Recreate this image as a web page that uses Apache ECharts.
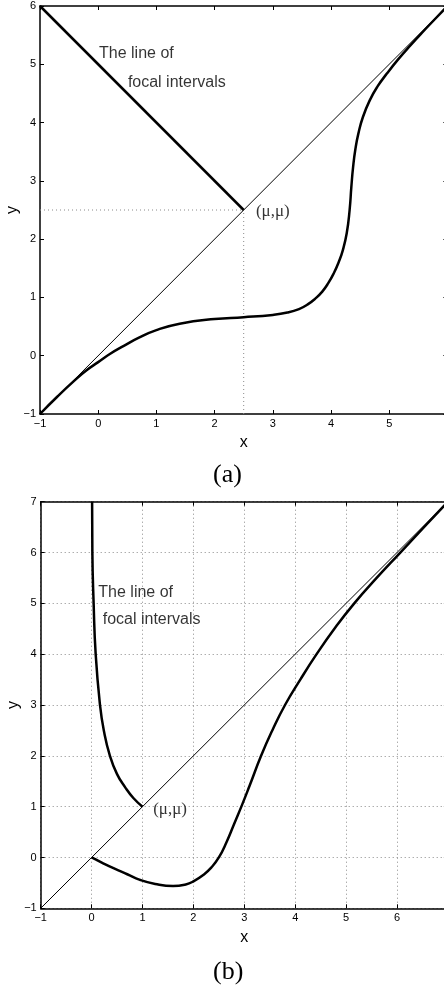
<!DOCTYPE html>
<html>
<head>
<meta charset="utf-8">
<script src="https://cdn.jsdelivr.net/npm/echarts@6/dist/echarts.min.js"></script>
<style>
  html, body { margin: 0; padding: 0; background: #fff; }
  #chart { width: 444px; height: 985px; }
</style>
</head>
<body>
<div id="chart"></div>
<script>
// ---- panel (a) ----
const aDiagonal = [[-1, -1], [6, 6]];
const aFocalLine = [[-1, 6], [2.5, 2.5]];
const aMu = 2.5;
const aCurve = [
  [-1, -1], [-0.7, -0.7], [-0.4, -0.42], [-0.2, -0.25], [0, -0.11], [0.2, 0.03],
  [0.44, 0.17], [0.7, 0.31], [1, 0.44], [1.4, 0.55], [2, 0.63], [2.5, 0.66],
  [3, 0.7], [3.25, 0.74], [3.45, 0.8], [3.6, 0.88], [3.73, 0.98], [3.85, 1.1],
  [3.95, 1.24], [4.05, 1.42], [4.13, 1.6], [4.2, 1.8], [4.27, 2.1], [4.32, 2.5],
  [4.35, 2.9], [4.38, 3.24], [4.42, 3.55], [4.47, 3.81], [4.55, 4.1], [4.67, 4.39],
  [4.8, 4.62], [4.96, 4.84], [5.15, 5.08], [5.36, 5.32], [5.6, 5.58], [5.8, 5.79], [6, 6]
];
const aRange = { xMin: -1, xMax: 6, yMin: -1, yMax: 6 };

// ---- panel (b) ----
const bDiagonal = [[-1, -1], [7, 7]];
const bFocalLine = [
  [0.01, 7], [0.015, 6], [0.04, 5], [0.08, 4], [0.165, 3], [0.24, 2.5],
  [0.36, 2], [0.5, 1.64], [0.66, 1.38], [0.82, 1.17], [1, 1]
];
const bCurve = [
  [0, 0], [0.2, -0.1], [0.43, -0.21], [0.7, -0.33], [0.95, -0.44], [1.25, -0.52],
  [1.6, -0.56], [1.85, -0.53], [2.0, -0.47], [2.2, -0.34], [2.35, -0.2],
  [2.5, 0.0], [2.65, 0.3], [2.8, 0.66], [2.95, 1.02], [3.1, 1.4], [3.33, 2],
  [3.55, 2.5], [3.8, 3], [4.1, 3.5], [4.42, 4], [4.77, 4.5], [5.16, 5],
  [5.6, 5.5], [6.065, 6], [6.53, 6.5], [7, 7]
];
const bRange = { xMin: -1, xMax: 7, yMin: -1, yMax: 7 };

// text annotations, anchored in data units (left edge, vertical middle)
const aNotes = [
  ['The line of', 0.014, 5.19, 'sans'],
  ['focal intervals', 0.51, 4.69, 'sans'],
  ['(μ,μ)', 2.71, 2.47, 'serif']
];
const bNotes = [
  ['The line of', 0.132, 5.21, 'sans'],
  ['focal intervals', 0.218, 4.675, 'sans'],
  ['(μ,μ)', 1.21, 0.935, 'serif']
];
const captions = ['(a)', '(b)'];
const axisTitles = ['x', 'y'];

const SANS = 'Liberation Sans, Arial, Helvetica, sans-serif';
const SERIF = 'Liberation Serif, Times New Roman, serif';
const minus = v => String(v).replace('-', '\u2212');

const chart = echarts.init(document.getElementById('chart'), null, { renderer: 'canvas' });

const boxLine = { show: true, onZero: false, lineStyle: { color: '#000', width: 1.5 } };
const tick = { show: true, inside: true, length: 4, lineStyle: { color: '#000', width: 1 } };
const dotted = { show: true, lineStyle: { color: '#8a8a8a', width: 1, type: [1, 3] } };

function mainX(gi, r, grid) {
  return {
    type: 'value', gridIndex: gi, min: r.xMin, max: r.xMax, interval: 1,
    position: 'bottom', axisLine: boxLine, axisTick: tick,
    axisLabel: { color: '#000', fontFamily: SANS, fontSize: 11, margin: 4, formatter: minus },
    splitLine: grid ? dotted : { show: false },
    name: axisTitles[0], nameLocation: 'middle', nameGap: 21,
    nameTextStyle: { color: '#000', fontFamily: SANS, fontSize: 16 }
  };
}
function topX(gi, r) {
  return {
    type: 'value', gridIndex: gi, min: r.xMin, max: r.xMax, interval: 1,
    position: 'top', axisLine: boxLine, axisTick: tick,
    axisLabel: { show: false }, splitLine: { show: false }
  };
}
function mainY(gi, r, grid) {
  return {
    type: 'value', gridIndex: gi, min: r.yMin, max: r.yMax, interval: 1,
    position: 'left', axisLine: boxLine, axisTick: tick,
    axisLabel: { color: '#000', fontFamily: SANS, fontSize: 11, margin: 4, formatter: minus },
    splitLine: grid ? dotted : { show: false },
    name: axisTitles[1], nameLocation: 'middle', nameGap: 19, nameRotate: 90,
    nameMoveOverlap: false,
    nameTextStyle: { color: '#000', fontFamily: SANS, fontSize: 16 }
  };
}
function rightY(gi, r) {
  return {
    type: 'value', gridIndex: gi, min: r.yMin, max: r.yMax, interval: 1,
    position: 'right', axisLine: boxLine, axisTick: tick,
    axisLabel: { show: false }, splitLine: { show: false }
  };
}

function line(xi, yi, data, width, extra) {
  return Object.assign({
    type: 'line', xAxisIndex: xi, yAxisIndex: yi, data: data,
    showSymbol: false, symbol: 'none', silent: true, clip: true,
    lineStyle: { color: '#000', width: width }
  }, extra || {});
}

function notes(xi, yi, list) {
  return {
    type: 'scatter', xAxisIndex: xi, yAxisIndex: yi, symbolSize: 0, silent: true,
    data: list.map(n => ({
      value: [n[1], n[2]],
      label: {
        show: true, position: [0, 0], align: 'left', verticalAlign: 'middle',
        formatter: n[0], color: '#000',
        fontFamily: n[3] === 'serif' ? SERIF : SANS,
        fontSize: n[3] === 'serif' ? 17 : 16
      }
    }))
  };
}

const guideStyle = { color: '#8a8a8a', width: 1, type: [1, 3] };

chart.setOption({
  animation: false,
  backgroundColor: '#fff',
  grid: [
    { left: 40, top: 6, width: 407.4, height: 408, outerBoundsMode: 'none', containLabel: false },
    { left: 40.7, top: 501.7, width: 407.2, height: 406.6, outerBoundsMode: 'none', containLabel: false }
  ],
  xAxis: [mainX(0, aRange, false), topX(0, aRange), mainX(1, bRange, true), topX(1, bRange)],
  yAxis: [mainY(0, aRange, false), rightY(0, aRange), mainY(1, bRange, true), rightY(1, bRange)],
  series: [
    // panel (a)
    line(0, 0, [[aRange.xMin, aMu], [aMu, aMu]], 1, { lineStyle: guideStyle }),
    line(0, 0, [[aMu, aRange.yMin], [aMu, aMu]], 1, { lineStyle: guideStyle }),
    line(0, 0, aDiagonal, 1),
    line(0, 0, aFocalLine, 2.5),
    line(0, 0, aCurve, 2.5, { smooth: 0.5 }),
    notes(0, 0, aNotes),
    // panel (b)
    line(2, 2, bDiagonal, 1),
    line(2, 2, bFocalLine, 2.5, { smooth: 0.5 }),
    line(2, 2, bCurve, 2.5, { smooth: 0.5 }),
    notes(2, 2, bNotes)
  ],
  graphic: [
    { type: 'text', left: 228 - 15, top: 462,
      style: { text: captions[0], font: '26px ' + SERIF, fill: '#000' } },
    { type: 'text', left: 228 - 15, top: 959,
      style: { text: captions[1], font: '26px ' + SERIF, fill: '#000' } }
  ]
});
</script>
</body>
</html>
